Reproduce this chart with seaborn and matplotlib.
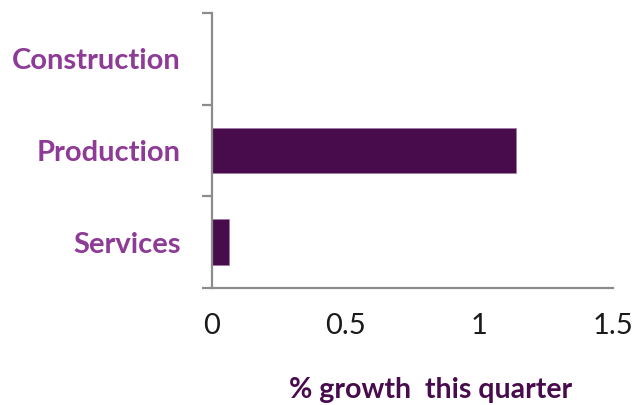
import matplotlib
matplotlib.use("Agg")
import matplotlib.pyplot as plt
import seaborn as sns
import pandas as pd

categories = ["Construction", "Production", "Services"]
values = [0.0, 1.14, 0.066]
x_ticks = [0, 0.5, 1, 1.5]
x_tick_labels = ["0", "0.5", "1", "1.5"]
x_label = "% growth  this quarter"

sns.set_style("white")
plt.rcParams['font.family'] = ['Lato', 'DejaVu Sans']

df = pd.DataFrame({"category": categories, "value": values})

fig = plt.figure(figsize=(6.39, 4.05), dpi=100)
ax = fig.add_axes([0.331, 0.289, 0.628, 0.679])

sns.barplot(data=df, x="value", y="category", order=categories, orient="h",
            color="#480c4d", width=0.5, saturation=1, edgecolor="#a27aa5",
            linewidth=0.6, ax=ax)

ax.set_xlim(0, 1.5)
ax.set_ylim(2.5, -0.5)
ax.set_xticks(x_ticks)
ax.set_xticklabels(x_tick_labels)
ax.set_xlabel(x_label, fontsize=20.5, fontweight="bold", color="#480c4d")
ax.xaxis.set_label_coords(0.545, -0.325)
ax.xaxis.label.set_va("top")
ax.set_ylabel("")

for lab in ax.get_yticklabels():
    lab.set_fontweight("bold")
    lab.set_color("#8e3a97")
    lab.set_fontsize(21)
ax.tick_params(axis="y", which="major", length=0, pad=22)
ax.set_yticks([-0.5, 0.5, 1.5, 2.5], minor=True)
ax.tick_params(axis="y", which="minor", left=True, length=7.5, width=1.6, color="#8c8c8c")
ax.tick_params(axis="x", which="major", length=0, pad=18, labelsize=21, labelcolor="#1a1a1a")

for side in ["top", "right"]:
    ax.spines[side].set_visible(False)
for side in ["left", "bottom"]:
    ax.spines[side].set_color("#8c8c8c")
    ax.spines[side].set_linewidth(1.6)

fig.savefig("out.png", dpi=100)
